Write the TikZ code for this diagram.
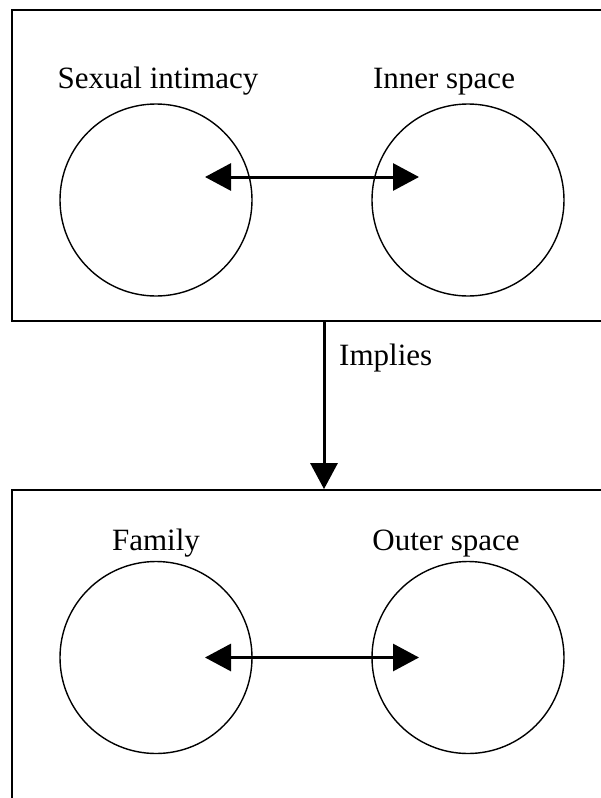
\documentclass[tikz,border=0pt]{standalone}
\usepackage{fontspec}
\setmainfont{Liberation Serif}
\usetikzlibrary{arrows.meta}
\begin{document}
\begin{tikzpicture}[x=1pt,y=-1pt,
  frame/.style={draw, line width=1.8pt, rectangle, inner sep=0pt},
  ring/.style={draw, line width=1.4pt, circle, minimum size=192pt, inner sep=0pt},
  lbl/.style={font=\fontsize{31}{37}\selectfont, inner sep=0pt, anchor=base},
  conn/.style={line width=3pt, -{Triangle[length=26pt,width=27pt]}},
  biconn/.style={line width=3pt, {Triangle[length=26pt,width=27pt]}-{Triangle[length=26pt,width=27pt]}}]
\useasboundingbox (0,0) rectangle (601,798);
\clip (0,0) rectangle (601,798);
\fill[white] (0,0) rectangle (601,798);
% boxes
\node[frame, minimum width=608pt, minimum height=311pt] (box1) at (316,165.5) {};
\node[frame, minimum width=608pt, minimum height=330pt] (box2) at (316,655) {};
% circles
\node[ring] (c1) at (156,200) {};
\node[ring] (c2) at (468,200) {};
\node[ring] (c3) at (156,657.5) {};
\node[ring] (c4) at (468,657.5) {};
% labels
\node[lbl] (t1) at (158,88) {Sexual intimacy};
\node[lbl] (t2) at (444,88) {Inner space};
\node[lbl, anchor=base west] (t3) at (339,365) {Implies};
\node[lbl] (t4) at (156,550) {Family};
\node[lbl] (t5) at (446,550) {Outer space};
% connectors
\draw[biconn] ([shift={(49,-23)}]c1.center) -- ([shift={(-49,-23)}]c2.center);
\draw[biconn] ([shift={(49,0)}]c3.center) -- ([shift={(-49,0)}]c4.center);
\coordinate (vx) at (324,0);
\draw[conn] (box1.south -| vx) -- (box2.north -| vx);
\end{tikzpicture}
\end{document}
